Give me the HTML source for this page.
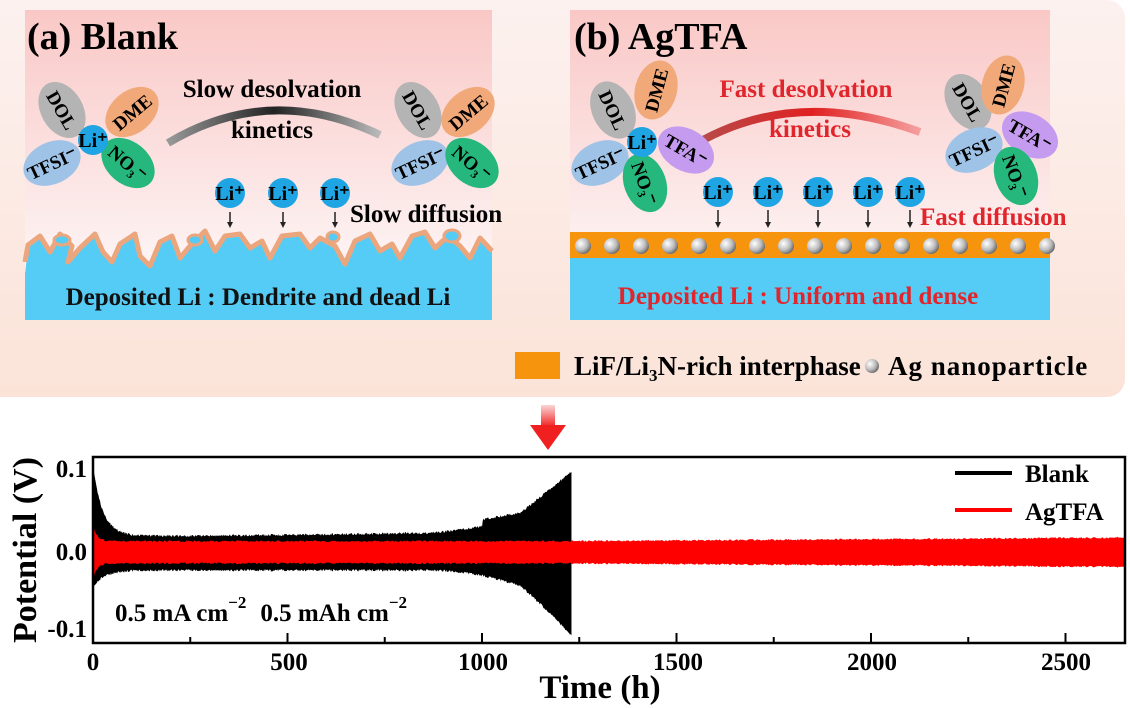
<!DOCTYPE html>
<html><head><meta charset="utf-8"><style>
html,body{margin:0;padding:0;background:#fff}
svg{display:block}
text{font-family:"Liberation Serif",serif;font-weight:bold}
</style></head><body>
<svg id="s" width="1130" height="708" viewBox="0 0 1130 708" xmlns="http://www.w3.org/2000/svg">
<defs>
<linearGradient id="bg" x1="0" y1="0" x2="0" y2="1"><stop offset="0" stop-color="#fcf1ef"/><stop offset="1" stop-color="#fbe3d8"/></linearGradient>
<linearGradient id="pan" x1="0" y1="0" x2="0" y2="1"><stop offset="0" stop-color="#f9c8c6"/><stop offset="0.75" stop-color="#fdf0f0"/><stop offset="1" stop-color="#fff"/></linearGradient>
<linearGradient id="arcg" x1="0" y1="0" x2="1" y2="0"><stop offset="0" stop-color="#999"/><stop offset="0.5" stop-color="#222"/><stop offset="1" stop-color="#bbb"/></linearGradient>
<linearGradient id="arcr" x1="0" y1="0" x2="1" y2="0"><stop offset="0" stop-color="#b84a4a"/><stop offset="0.5" stop-color="#e02020"/><stop offset="1" stop-color="#f5a0a0"/></linearGradient>
<radialGradient id="ball" cx="0.35" cy="0.35" r="0.7"><stop offset="0" stop-color="#fff"/><stop offset="0.6" stop-color="#bbb"/><stop offset="1" stop-color="#666"/></radialGradient>
<linearGradient id="ra" x1="0" y1="0" x2="0" y2="1"><stop offset="0" stop-color="#fbd6d6"/><stop offset="1" stop-color="#f02020"/></linearGradient>
</defs>
<rect x="0" y="0" width="1130" height="708" fill="#fff"/>
<rect x="-20" y="0" width="1145" height="397" rx="18" fill="url(#bg)"/>
<!-- panel a -->
<rect x="25" y="10" width="467" height="310" fill="url(#pan)"/>
<path id="dend" d="M25,275 L28,245 L40,236 L50,252 L60,234 L72,246 L68,262 L80,248 L95,234 L103,252 L112,262 L120,244 L135,234 L140,256 L150,266 L160,242 L172,236 L180,258 L190,246 L205,231 L215,251 L225,236 L240,234 L250,248 L262,241 L270,258 L282,236 L300,234 L310,248 L320,238 L335,246 L345,264 L355,241 L370,234 L380,251 L392,244 L400,258 L412,236 L425,232 L435,248 L448,236 L460,246 L470,258 L480,238 L492,251 L492,275 Z" fill="#55ccf5"/>
<polyline points="25,262 28,245 40,236 50,252 60,234 72,246 68,262 80,248 95,234 103,252 112,262 120,244 135,234 140,256 150,266 160,242 172,236 180,258 190,246 205,231 215,251 225,236 240,234 250,248 262,241 270,258 282,236 300,234 310,248 320,238 335,246 345,264 355,241 370,234 380,251 392,244 400,258 412,236 425,232 435,248 448,236 460,246 470,258 480,238 492,251" fill="none" stroke="#eba67e" stroke-width="5" stroke-linejoin="round"/>
<g fill="#55ccf5" stroke="#eba67e" stroke-width="3"><ellipse cx="62" cy="240" rx="8" ry="5"/><ellipse cx="195" cy="240" rx="7" ry="5"/><ellipse cx="333" cy="237" rx="6" ry="5"/><ellipse cx="452" cy="236" rx="8" ry="6"/></g>
<rect x="25" y="272" width="467" height="48" fill="#55ccf5"/>
<text x="27" y="49" font-size="38">(a) Blank</text>
<text x="258" y="305" font-size="25" text-anchor="middle" fill="#111">Deposited Li : Dendrite and dead Li</text>
<path d="M168,143 Q270,82 380,135" fill="none" stroke="url(#arcg)" stroke-width="8"/>
<text x="272" y="97" font-size="25" text-anchor="middle">Slow desolvation</text>
<text x="272" y="138" font-size="25" text-anchor="middle">kinetics</text>
<text x="350" y="222" font-size="25">Slow diffusion</text>
<!-- panel b -->
<rect x="570" y="10" width="480" height="310" fill="url(#pan)"/>
<rect x="570" y="258" width="480" height="62" fill="#55ccf5"/>
<rect x="570" y="232" width="480" height="26" fill="#f7940d"/>
<g id="balls"></g>
<text x="574" y="49" font-size="38">(b) AgTFA</text>
<text x="798" y="304" font-size="25" text-anchor="middle" fill="#e0262c">Deposited Li : Uniform and dense</text>
<path d="M703,140 Q800,88 920,132" fill="none" stroke="url(#arcr)" stroke-width="8"/>
<text x="806" y="97" font-size="25" text-anchor="middle" fill="#e0262c">Fast desolvation</text>
<text x="810" y="137" font-size="25" text-anchor="middle" fill="#e0262c">kinetics</text>
<text x="920" y="225" font-size="25" fill="#e0262c">Fast diffusion</text>
<g id="mol"></g>
<!-- legend -->
<rect x="515" y="352" width="45" height="27" fill="#f7940d"/>
<text x="574" y="375" font-size="27">LiF/Li<tspan font-size="17" dy="6">3</tspan><tspan dy="-6">N-rich interphase</tspan></text>
<circle cx="872" cy="366" r="7" fill="url(#ball)"/>
<text x="888" y="375" font-size="27" letter-spacing="1">Ag nanoparticle</text>
<!-- red arrow -->
<rect x="541" y="405" width="14" height="22" fill="url(#ra)"/>
<polygon points="530,425 566,425 548,450" fill="#f02020"/>
<!-- chart -->
<g id="chart"></g>
<rect x="93" y="457" width="1032" height="186" fill="none" stroke="#000" stroke-width="2.5"/>
<g font-size="25">
<text x="87" y="477" text-anchor="end">0.1</text>
<text x="87" y="560" text-anchor="end">0.0</text>
<text x="87" y="637" text-anchor="end">-0.1</text>
<text x="93" y="670" text-anchor="middle">0</text>
<text x="289" y="670" text-anchor="middle">500</text>
<text x="483" y="670" text-anchor="middle">1000</text>
<text x="678" y="670" text-anchor="middle">1500</text>
<text x="872" y="670" text-anchor="middle">2000</text>
<text x="1066" y="670" text-anchor="middle">2500</text>
</g>
<text x="600" y="698" font-size="33" text-anchor="middle">Time (h)</text>
<text transform="translate(36,550) rotate(-90)" font-size="34" text-anchor="middle">Potential (V)</text>
<text x="115" y="621" font-size="25">0.5 mA cm<tspan font-size="17" dy="-13">−2</tspan><tspan dy="13" dx="14">0.5 mAh cm</tspan><tspan font-size="17" dy="-13">−2</tspan></text>
<line x1="955" y1="473" x2="1012" y2="473" stroke="#000" stroke-width="4"/>
<text x="1025" y="482" font-size="25">Blank</text>
<line x1="955" y1="510" x2="1012" y2="510" stroke="#f00" stroke-width="4"/>
<text x="1025" y="520" font-size="25">AgTFA</text>
</svg>
<script>
var NS="http://www.w3.org/2000/svg";
function el(p,t,a,txt){var e=document.createElementNS(NS,t);for(var k in a)e.setAttribute(k,a[k]);if(txt!==undefined)e.textContent=txt;document.getElementById(p).appendChild(e);return e;}
for(var x=583;x<1050;x+=29){el("balls","circle",{cx:x,cy:246,r:8,fill:"url(#ball)"});}
var cols={DOL:"#b4b4b4",DME:"#f1a97a",TFSI:"#9ec3e6",NO3:"#25b77b",TFA:"#c59bef"};
function mol(n,cx,cy,rot,lab){var g=el("mol","g",{transform:"translate("+cx+","+cy+") rotate("+rot+")"});
var e=document.createElementNS(NS,"ellipse");e.setAttribute("rx",30);e.setAttribute("ry",21);e.setAttribute("fill",cols[n]);g.appendChild(e);
var t=document.createElementNS(NS,"text");t.setAttribute("text-anchor","middle");t.setAttribute("y",7);t.setAttribute("font-size",19);t.textContent=lab;g.appendChild(t);}
function li(cx,cy){el("mol","circle",{cx:cx,cy:cy,r:15,fill:"#1fa5e3"});el("mol","text",{x:cx,y:cy+7,"font-size":20,"text-anchor":"middle"},"Li⁺");}
mol("DOL",62,110,60,"DOL");mol("DME",132,112,-40,"DME");mol("TFSI",52,163,-25,"TFSI⁻");mol("NO3",128,163,40,"NO₃⁻");li(93,140);
mol("DOL",418,110,60,"DOL");mol("DME",468,112,-40,"DME");mol("TFSI",420,163,-25,"TFSI⁻");mol("NO3",472,163,40,"NO₃⁻");
mol("DOL",613,110,65,"DOL");mol("DME",656,90,-75,"DME");mol("TFSI",600,163,-25,"TFSI⁻");mol("NO3",645,183,70,"NO₃⁻");mol("TFA",686,150,30,"TFA⁻");li(642,142);
mol("DOL",968,102,60,"DOL");mol("DME",1003,85,-75,"DME");mol("TFA",1030,135,30,"TFA⁻");mol("TFSI",974,150,-25,"TFSI⁻");mol("NO3",1016,176,70,"NO₃⁻");
function arrow(x,y1,y2){el("mol","line",{x1:x,y1:y1,x2:x,y2:y2-5,stroke:"#222","stroke-width":1.5});el("mol","polygon",{points:(x-3)+","+(y2-6)+" "+(x+3)+","+(y2-6)+" "+x+","+y2,fill:"#222"});}
[230,283,335].forEach(function(x){li(x,193);arrow(x,212,228);});
[718,768,818,868,910].forEach(function(x){li(x,192);arrow(x,210,228);});
var X=function(h){return 93+h*0.389},Y=function(v){return 551-v*820};
function bu(h){var v=0.017+0.085*Math.exp(-h/25);if(h>300)v+=0.000006*(h-300);if(h>850)v+=0.03*Math.pow((h-850)/380,1.5);if(h>1000)v+=0.008;if(h>1100)v+=0.035*(h-1100)/130;return v;}
function bl(h){var v=0.022+0.02*Math.exp(-h/30);if(h>850)v+=0.05*Math.pow((h-850)/380,2.2);if(h>1100)v+=0.03*(h-1100)/130;return v;}
var up=[],lo=[];for(var h=0;h<=1230;h+=2){var n=Math.random()*0.003;up.push(X(h)+","+Y(bu(h)+n));lo.unshift(X(h)+","+Y(-bl(h)-n));}
el("chart","polygon",{points:up.join(" ")+" "+X(1230)+","+Y(0)+" "+lo.join(" "),fill:"#000"});
var ru=[],rl=[];for(h=0;h<=2653;h+=3){var a=0.011+0.02*Math.exp(-h/10)+(h>1200?0.000003*(h-1200):0)+Math.random()*0.002;ru.push(X(h)+","+Y(a));rl.unshift(X(h)+","+Y(-a-0.003));}
el("chart","polygon",{points:ru.join(" ")+" "+rl.join(" "),fill:"#f00"});
for(var t=0;t<=2650;t+=250){el("chart","line",{x1:X(t),y1:643,x2:X(t),y2:t%500?637:633,stroke:"#000","stroke-width":2});}
</script>
</body></html>
